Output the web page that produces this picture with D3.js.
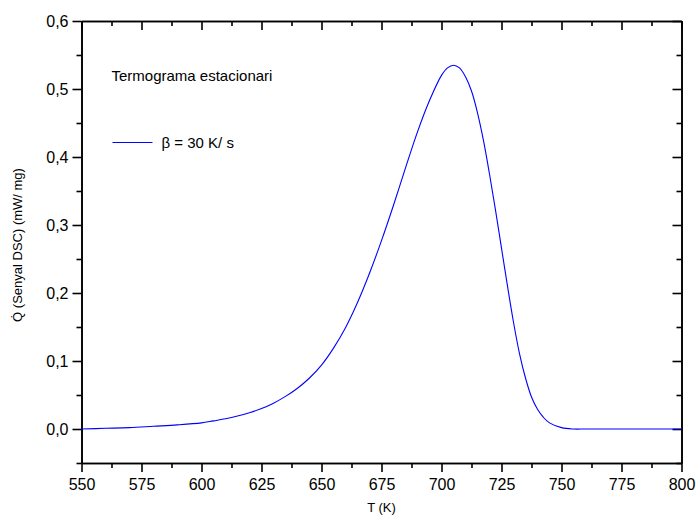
<!DOCTYPE html>
<html>
<head>
<meta charset="utf-8">
<script src="https://cdn.jsdelivr.net/npm/d3@7"></script>
<style>
  body { margin: 0; background: #fff; }
  svg { font-family: "Liberation Sans", Arial, sans-serif; }
  .axis path, .axis line { stroke: #000; stroke-width: 1.6; }
  .axis text { font-size: 16px; fill: #000; }
</style>
</head>
<body>
<div class="chart"></div>
<script>
// temperatura (K) i senyal DSC (mW/mg), llegits del gràfic
const temps = [550, 560, 570, 580, 590, 600, 605, 610, 615, 620, 625, 630, 635, 640, 645, 650, 655, 660, 665,
  670, 675, 680, 685, 690, 695, 700, 702.5, 705, 707.5, 710, 712.5, 715, 717.5, 720, 722.5, 725, 727.5,
  730, 732.5, 735, 737.5, 740, 742.5, 745, 750, 755, 760, 780, 800];
const senyal = [0.000, 0.001, 0.002, 0.004, 0.006, 0.009, 0.012, 0.015, 0.019, 0.024, 0.030, 0.038, 0.048, 0.060, 0.075, 0.094, 0.119, 0.149, 0.186,
  0.229, 0.277, 0.329, 0.384, 0.437, 0.483, 0.520, 0.531, 0.535, 0.531, 0.518, 0.497, 0.465, 0.424, 0.375, 0.322, 0.266, 0.210,
  0.157, 0.111, 0.075, 0.047, 0.029, 0.017, 0.009, 0.002, 0.000, 0.000, 0.000, 0.000];
const xTicks = [550, 575, 600, 625, 650, 675, 700, 725, 750, 775, 800];
const yTicks = [0.0, 0.1, 0.2, 0.3, 0.4, 0.5, 0.6];
const legendTitle = 'Termograma estacionari';
const seriesName = 'β = 30 K/ s';

const config = { svgW: 696, svgH: 525, top: 21, right: 14.5, bottom: 62, left: 81.5 };
const w = config.svgW - config.left - config.right;
const h = config.svgH - config.top - config.bottom;

const svg = d3.select('.chart').append('svg')
  .attr('width', config.svgW)
  .attr('height', config.svgH);
const g = svg.append('g')
  .attr('transform', `translate(${config.left},${config.top})`);

const xScale = d3.scaleLinear().domain([550, 800]).range([0, w]);
const yScale = d3.scaleLinear().domain([-0.05, 0.6]).range([h, 0]);

// ticks menors a la meitat
const xMinor = d3.range(562.5, 800, 25);
const yMinor = d3.range(-0.05, 0.6, 0.1);
const fmt = d => d3.format('.1f')(d).replace('.', ',');

// eixos principals (marques cap a fora)
g.append('g').attr('class', 'axis')
  .attr('transform', `translate(0,${h})`)
  .call(d3.axisBottom(xScale).tickValues(xMinor).tickSize(5).tickSizeOuter(0).tickFormat(''));
g.append('g').attr('class', 'axis')
  .attr('transform', `translate(0,${h})`)
  .call(d3.axisBottom(xScale).tickValues(xTicks).tickSize(9).tickSizeOuter(0).tickPadding(7));
g.append('g').attr('class', 'axis')
  .call(d3.axisLeft(yScale).tickValues(yMinor).tickSize(5).tickSizeOuter(0).tickFormat(''));
g.append('g').attr('class', 'axis')
  .call(d3.axisLeft(yScale).tickValues(yTicks).tickSize(9).tickSizeOuter(0).tickPadding(4).tickFormat(fmt));

// eixos mirall (marques cap a dins)
g.append('g').attr('class', 'axis')
  .call(d3.axisTop(xScale).tickValues(xMinor).tickSize(-5).tickSizeOuter(0).tickFormat(''));
g.append('g').attr('class', 'axis')
  .call(d3.axisTop(xScale).tickValues(xTicks).tickSize(-9).tickSizeOuter(0).tickFormat(''));
g.append('g').attr('class', 'axis')
  .attr('transform', `translate(${w},0)`)
  .call(d3.axisRight(yScale).tickValues(yMinor).tickSize(-5).tickSizeOuter(0).tickFormat(''));
g.append('g').attr('class', 'axis')
  .attr('transform', `translate(${w},0)`)
  .call(d3.axisRight(yScale).tickValues(yTicks).tickSize(-9).tickSizeOuter(0).tickFormat(''));

// corba
const line = d3.line()
  .x((d, i) => xScale(temps[i]))
  .y(d => yScale(d))
  .curve(d3.curveCatmullRom);
g.append('path')
  .attr('fill', 'none')
  .attr('stroke', '#0000ff')
  .attr('stroke-width', 1.1)
  .attr('d', line(senyal));

// títols dels eixos
svg.append('text')
  .attr('x', config.left + w / 2)
  .attr('y', 512)
  .attr('text-anchor', 'middle')
  .style('font-size', '13px')
  .text('T (K)');
svg.append('text')
  .attr('transform', 'translate(22,245) rotate(-90)')
  .attr('text-anchor', 'middle')
  .style('font-size', '13px')
  .text('Q\u0307 (Senyal DSC) (mW/ mg)');

// llegenda
svg.append('text')
  .attr('x', 111.5)
  .attr('y', 81)
  .style('font-size', '15px')
  .text(legendTitle);
svg.append('line')
  .attr('x1', 112.5).attr('x2', 152.5)
  .attr('y1', 142.5).attr('y2', 142.5)
  .attr('stroke', '#0000ff')
  .attr('stroke-width', 1.1);
svg.append('text')
  .attr('x', 161.5)
  .attr('y', 148)
  .style('font-size', '15px')
  .text(seriesName);
</script>
</body>
</html>
